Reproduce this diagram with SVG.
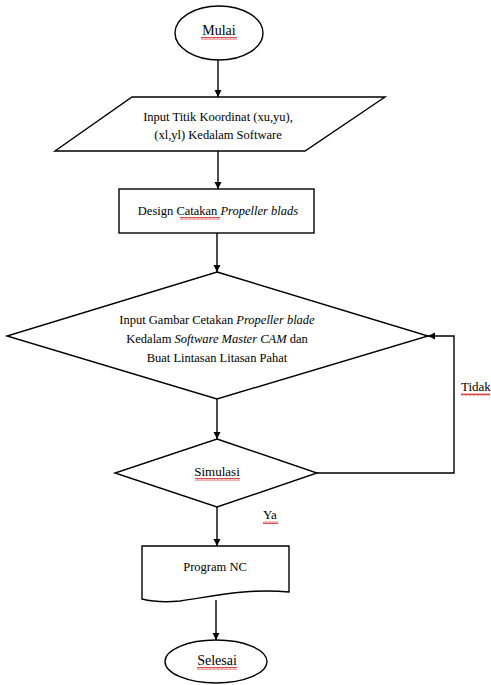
<svg xmlns="http://www.w3.org/2000/svg" width="491" height="685" viewBox="0 0 491 685">
<style>
.s{fill:#fff;stroke:#000;stroke-width:1.4}
.c{fill:none;stroke:#000;stroke-width:1.4}
.t{font-family:"Liberation Serif","Times New Roman",serif;font-size:12.5px;fill:#000;text-anchor:middle}
.l{font-family:"Liberation Serif","Times New Roman",serif;font-size:13px;fill:#000}
.b{font-size:14px}
.m{font-size:13px}
.i{font-style:italic}
</style>
<defs>
<marker id="ah" viewBox="0 0 10 10" refX="10" refY="5" markerWidth="7" markerHeight="8" orient="auto" markerUnits="userSpaceOnUse">
<path d="M0,0 L10,5 L0,10 z" fill="#000"/>
</marker>
<pattern id="wv" width="4" height="3" patternUnits="userSpaceOnUse">
<path d="M0,2.5 L1,0.5 L2,2.5 L3,0.5 L4,2.5" fill="none" stroke="#c00" stroke-width="0.7"/>
</pattern>
</defs>
<rect width="491" height="685" fill="#fff"/>
<g id="connectors">
<line class="c" x1="218" y1="60" x2="218" y2="97" marker-end="url(#ah)"/>
<line class="c" x1="218" y1="151" x2="218" y2="189" marker-end="url(#ah)"/>
<line class="c" x1="217" y1="233" x2="217" y2="272" marker-end="url(#ah)"/>
<line class="c" x1="217" y1="399" x2="217" y2="439" marker-end="url(#ah)"/>
<polyline class="c" points="317,473 454,473 454,336 428,336" marker-end="url(#ah)"/>
<line class="c" x1="217" y1="507" x2="217" y2="546" marker-end="url(#ah)"/>
<line class="c" x1="216" y1="600" x2="216" y2="640" marker-end="url(#ah)"/>
<text class="l" x="461" y="391">Tidak</text>
<rect x="461" y="393" width="29" height="3" fill="url(#wv)"/>
<text class="l" x="263" y="519">Ya</text>
<rect x="263" y="521" width="15" height="3" fill="url(#wv)"/>
</g>
<g id="mulai">
<ellipse class="s" cx="219" cy="33" rx="44" ry="27"/>
<text class="t b" x="219" y="35">Mulai</text>
<rect x="201" y="37" width="36" height="3" fill="url(#wv)"/>
</g>
<g id="input-koordinat">
<polygon class="s" points="132,97 385,97 305,151 55,151"/>
<text class="t" x="218" y="121">Input Titik Koordinat (xu,yu),</text>
<text class="t" x="218" y="139">(xl,yl) Kedalam Software</text>
</g>
<g id="design">
<rect class="s" x="119" y="189" width="195" height="44"/>
<text class="t" x="218" y="215">Design <tspan>Catakan</tspan> <tspan class="i">Propeller blads</tspan></text>
<rect x="180" y="217" width="40" height="3" fill="url(#wv)"/>
</g>
<g id="input-gambar">
<polygon class="s" points="217,272 428,336 217,399 7,336"/>
<text class="t" x="217" y="324">Input Gambar Cetakan  <tspan class="i">Propeller blade</tspan></text>
<text class="t" x="217" y="343">Kedalam <tspan class="i">Software Master CAM</tspan> dan</text>
<text class="t" x="217" y="362">Buat Lintasan Litasan Pahat</text>
</g>
<g id="simulasi">
<polygon class="s" points="217,439 317,473 217,507 115,473"/>
<text class="t m" x="217" y="476">Simulasi</text>
<rect x="195" y="478" width="45" height="3" fill="url(#wv)"/>
</g>
<g id="program-nc">
<path class="s" d="M142,546 L289,546 L289,592 C250,588 215,596 180,601 C160,603 150,601 142,599 Z"/>
<text class="t" x="215" y="571">Program NC</text>
</g>
<g id="selesai">
<ellipse class="s" cx="216" cy="661.5" rx="51" ry="21.5"/>
<text class="t b" x="217" y="665">Selesai</text>
<rect x="197" y="667" width="40" height="3" fill="url(#wv)"/>
</g>
</svg>
